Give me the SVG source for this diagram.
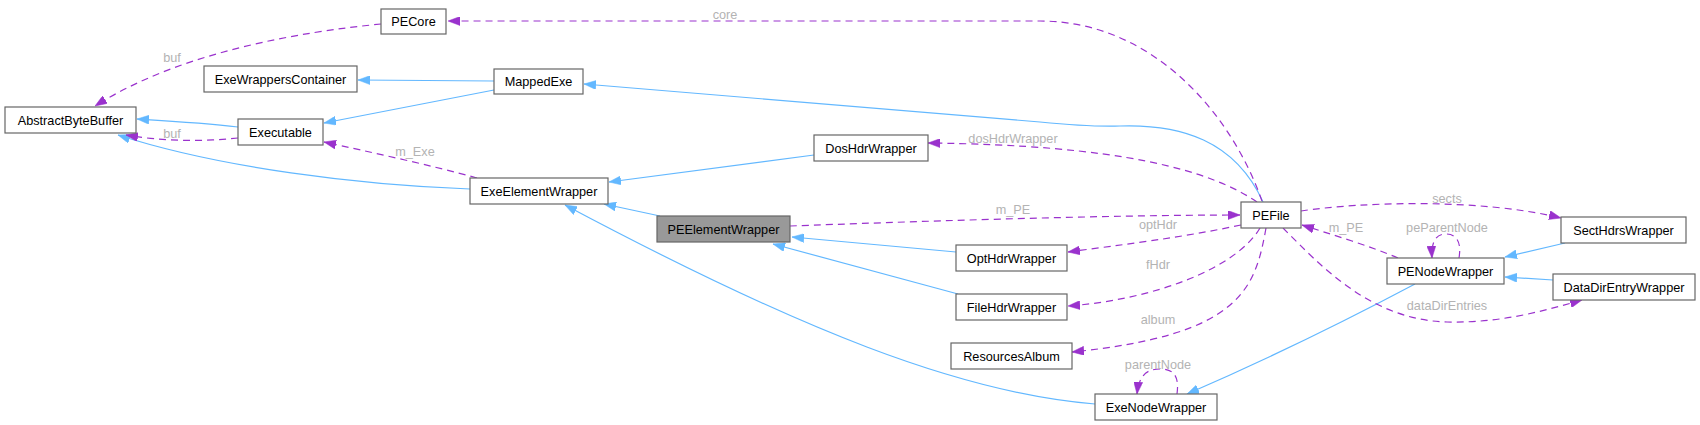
<svg xmlns="http://www.w3.org/2000/svg" width="1700" height="425" viewBox="0 0 1700 425">
<style>
.node rect{fill:#ffffff;stroke:#666666;stroke-width:1.2}
.node.cur rect{fill:#999999}
.node text{font-family:"Liberation Sans",Arial,Helvetica,sans-serif;font-size:12.7px;fill:#000000;text-anchor:middle}
.inh{fill:none;stroke:#63b8ff;stroke-width:1.2;marker-end:url(#aBlue)}
.rel{fill:none;stroke:#9a32cd;stroke-width:1.2;stroke-dasharray:7,5;marker-end:url(#aPurple)}
.lbl{font-family:"Liberation Sans",Arial,Helvetica,sans-serif;font-size:12.7px;fill:#b3b3b3;text-anchor:middle}
</style>
<defs>
<marker id="aBlue" viewBox="0 0 12 9" refX="12" refY="4.5" markerWidth="12" markerHeight="9" markerUnits="userSpaceOnUse" orient="auto">
<path d="M0,0 L12,4.5 L0,9 z" fill="#63b8ff" stroke="#63b8ff" stroke-width="0.5"/>
</marker>
<marker id="aPurple" viewBox="0 0 12 9" refX="12" refY="4.5" markerWidth="12" markerHeight="9" markerUnits="userSpaceOnUse" orient="auto">
<path d="M0,0 L12,4.5 L0,9 z" fill="#9a32cd" stroke="#9a32cd" stroke-width="0.5"/>
</marker>
</defs>
<rect width="1700" height="425" fill="#ffffff"/>
<g id="connectors">
<path class="inh" d="M494,81 L358,80"/>
<path class="inh" d="M494,90 L324,123"/>
<path class="inh" d="M238,127 C205,123 170,121 137,119"/>
<path class="inh" d="M470,189 C360,185 220,168 118,135"/>
<path class="inh" d="M814,155 L609,182"/>
<path class="inh" d="M660,216 L604,204"/>
<path class="inh" d="M956,252 L792,237"/>
<path class="inh" d="M958,294 L773,244"/>
<path class="inh" d="M1095,404 C960,393 800,330 565,205"/>
<path class="inh" d="M1263,202 C1235,140 1180,124 1120,126 C1090,127 1060,124 1040,122 L584,84"/>
<path class="inh" d="M1415,284 Q1300,345 1187,394"/>
<path class="inh" d="M1565,243 L1505,257"/>
<path class="inh" d="M1553,280 L1505,277"/>
<path class="rel" d="M381,24 C300,32 180,52 95,106"/>
<path class="rel" d="M238,138 C200,142 160,141 126,135"/>
<path class="rel" d="M477,178 C430,165 370,152 324,142"/>
<path class="rel" d="M790,226 C900,222 1100,215 1240,215"/>
<path class="rel" d="M1262,201 C1230,110 1150,21 1040,21 L448,21"/>
<path class="rel" d="M1257,202 C1210,170 1120,145 928,143"/>
<path class="rel" d="M1241,225 C1180,238 1120,245 1068,252"/>
<path class="rel" d="M1260,228 C1235,270 1150,300 1068,306"/>
<path class="rel" d="M1266,228 C1255,290 1240,335 1072,352"/>
<path class="rel" d="M1177,394 C1180,372 1170,369 1160,369 C1148,369 1139,374 1137,394"/>
<path class="rel" d="M1301,211 C1360,202 1480,198 1561,218"/>
<path class="rel" d="M1398,258 C1370,246 1330,234 1302,225"/>
<path class="rel" d="M1459,258 C1462,240 1455,234 1446,234 C1437,234 1431,240 1432,258"/>
<path class="rel" d="M1283,228 C1320,265 1370,320 1447,322 C1500,323 1540,312 1582,300"/>
<text class="lbl" x="172" y="61.5">buf</text>
<text class="lbl" x="172" y="137.5">buf</text>
<text class="lbl" x="415" y="155.5">m_Exe</text>
<text class="lbl" x="725" y="18.5">core</text>
<text class="lbl" x="1013" y="142.5">dosHdrWrapper</text>
<text class="lbl" x="1013" y="213.5">m_PE</text>
<text class="lbl" x="1158" y="228.5">optHdr</text>
<text class="lbl" x="1158" y="268.5">fHdr</text>
<text class="lbl" x="1158" y="323.5">album</text>
<text class="lbl" x="1158" y="368.5">parentNode</text>
<text class="lbl" x="1447" y="202.5">sects</text>
<text class="lbl" x="1346" y="231.5">m_PE</text>
<text class="lbl" x="1447" y="231.5">peParentNode</text>
<text class="lbl" x="1447" y="309.5">dataDirEntries</text>
</g>
<g id="AbstractByteBuffer" class="node"><rect x="5" y="107" width="131" height="26"/><text x="70.5" y="124.5">AbstractByteBuffer</text></g>
<g id="PECore" class="node"><rect x="381" y="9" width="65" height="25"/><text x="413.5" y="26">PECore</text></g>
<g id="ExeWrappersContainer" class="node"><rect x="204" y="66" width="153" height="26"/><text x="280.5" y="83.5">ExeWrappersContainer</text></g>
<g id="MappedExe" class="node"><rect x="494" y="69" width="89" height="25"/><text x="538.5" y="86">MappedExe</text></g>
<g id="Executable" class="node"><rect x="238" y="119" width="85" height="26"/><text x="280.5" y="136.5">Executable</text></g>
<g id="ExeElementWrapper" class="node"><rect x="470" y="178" width="138" height="26"/><text x="539" y="195.5">ExeElementWrapper</text></g>
<g id="DosHdrWrapper" class="node"><rect x="814" y="135" width="114" height="26"/><text x="871" y="152.5">DosHdrWrapper</text></g>
<g id="PEElementWrapper" class="node cur"><rect x="657" y="216" width="133" height="26"/><text x="723.5" y="233.5">PEElementWrapper</text></g>
<g id="PEFile" class="node"><rect x="1241" y="202" width="60" height="26"/><text x="1271" y="219.5">PEFile</text></g>
<g id="OptHdrWrapper" class="node"><rect x="956" y="245" width="111" height="26"/><text x="1011.5" y="262.5">OptHdrWrapper</text></g>
<g id="FileHdrWrapper" class="node"><rect x="956" y="294" width="111" height="26"/><text x="1011.5" y="311.5">FileHdrWrapper</text></g>
<g id="ResourcesAlbum" class="node"><rect x="951" y="343" width="121" height="26"/><text x="1011.5" y="360.5">ResourcesAlbum</text></g>
<g id="ExeNodeWrapper" class="node"><rect x="1095" y="394" width="122" height="26"/><text x="1156" y="411.5">ExeNodeWrapper</text></g>
<g id="PENodeWrapper" class="node"><rect x="1387" y="258" width="117" height="26"/><text x="1445.5" y="275.5">PENodeWrapper</text></g>
<g id="SectHdrsWrapper" class="node"><rect x="1561" y="217" width="125" height="26"/><text x="1623.5" y="234.5">SectHdrsWrapper</text></g>
<g id="DataDirEntryWrapper" class="node"><rect x="1553" y="274" width="142" height="26"/><text x="1624" y="291.5">DataDirEntryWrapper</text></g>
</svg>
